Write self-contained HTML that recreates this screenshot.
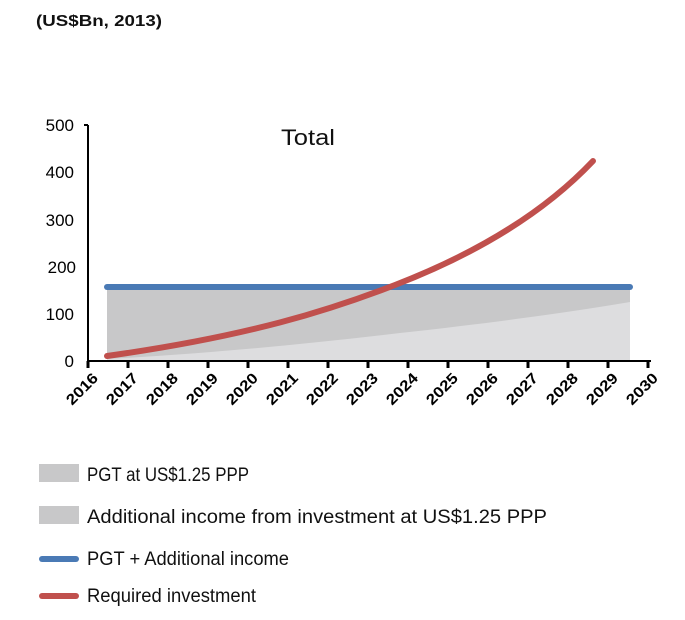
<!DOCTYPE html>
<html><head><style>
body{margin:0;background:#fff;}
svg{display:block;font-family:"Liberation Sans",sans-serif;}
</style></head><body>
<svg width="685" height="620" viewBox="0 0 685 620">
<rect width="685" height="620" fill="#fff"/>
<text x="36" y="26" font-size="16" font-weight="bold" fill="#111" textLength="126" lengthAdjust="spacingAndGlyphs">(US$Bn, 2013)</text>
<!-- areas -->
<rect x="107" y="289" width="523" height="72" fill="#c8c8c9"/>
<path d="M107,359 C200,354 300,345 400,333 C500,322 570,312 630,302 L630,361 L107,361 Z" fill="#dddddf"/>
<!-- blue -->
<line x1="107" y1="287" x2="630" y2="287" stroke="#4a7ab5" stroke-width="6" stroke-linecap="round"/>
<!-- red -->
<path d="M107,356 C250,336 330,310 395,285 C470,256 540,217 593,161" fill="none" stroke="#c0504d" stroke-width="6" stroke-linecap="round"/>
<!-- axes -->
<line x1="88" y1="125" x2="88" y2="362" stroke="#000" stroke-width="2"/>
<line x1="84" y1="125" x2="88" y2="125" stroke="#000" stroke-width="2"/>
<line x1="87" y1="361" x2="651" y2="361" stroke="#000" stroke-width="2"/>
<g stroke="#000" stroke-width="3">
<line x1="88" y1="361" x2="88" y2="368"/><line x1="128" y1="361" x2="128" y2="368"/><line x1="168" y1="361" x2="168" y2="368"/><line x1="208" y1="361" x2="208" y2="368"/><line x1="248" y1="361" x2="248" y2="368"/><line x1="288" y1="361" x2="288" y2="368"/><line x1="328" y1="361" x2="328" y2="368"/><line x1="368" y1="361" x2="368" y2="368"/><line x1="408" y1="361" x2="408" y2="368"/><line x1="448" y1="361" x2="448" y2="368"/><line x1="488" y1="361" x2="488" y2="368"/><line x1="528" y1="361" x2="528" y2="368"/><line x1="568" y1="361" x2="568" y2="368"/><line x1="608" y1="361" x2="608" y2="368"/><line x1="648" y1="361" x2="648" y2="368"/>
</g>
<g font-size="17" fill="#000" text-anchor="end">
<text x="74" y="131">500</text><text x="74" y="178">400</text><text x="74" y="226">300</text><text x="76" y="273">200</text><text x="74" y="320">100</text><text x="74" y="367">0</text>
</g>
<g font-size="15" font-weight="bold" fill="#000" text-anchor="end">
<text transform="translate(99,379) rotate(-45)" textLength="38" lengthAdjust="spacingAndGlyphs">2016</text>
<text transform="translate(139,379) rotate(-45)" textLength="38" lengthAdjust="spacingAndGlyphs">2017</text>
<text transform="translate(179,379) rotate(-45)" textLength="38" lengthAdjust="spacingAndGlyphs">2018</text>
<text transform="translate(219,379) rotate(-45)" textLength="38" lengthAdjust="spacingAndGlyphs">2019</text>
<text transform="translate(259,379) rotate(-45)" textLength="38" lengthAdjust="spacingAndGlyphs">2020</text>
<text transform="translate(299,379) rotate(-45)" textLength="38" lengthAdjust="spacingAndGlyphs">2021</text>
<text transform="translate(339,379) rotate(-45)" textLength="38" lengthAdjust="spacingAndGlyphs">2022</text>
<text transform="translate(379,379) rotate(-45)" textLength="38" lengthAdjust="spacingAndGlyphs">2023</text>
<text transform="translate(419,379) rotate(-45)" textLength="38" lengthAdjust="spacingAndGlyphs">2024</text>
<text transform="translate(459,379) rotate(-45)" textLength="38" lengthAdjust="spacingAndGlyphs">2025</text>
<text transform="translate(499,379) rotate(-45)" textLength="38" lengthAdjust="spacingAndGlyphs">2026</text>
<text transform="translate(539,379) rotate(-45)" textLength="38" lengthAdjust="spacingAndGlyphs">2027</text>
<text transform="translate(579,379) rotate(-45)" textLength="38" lengthAdjust="spacingAndGlyphs">2028</text>
<text transform="translate(619,379) rotate(-45)" textLength="38" lengthAdjust="spacingAndGlyphs">2029</text>
<text transform="translate(659,379) rotate(-45)" textLength="38" lengthAdjust="spacingAndGlyphs">2030</text>
</g>
<text x="281" y="145" font-size="22" fill="#111" textLength="54" lengthAdjust="spacingAndGlyphs">Total</text>
<!-- legend -->
<rect x="39" y="464" width="40" height="18" fill="#c8c8c9"/>
<rect x="39" y="506" width="40" height="18" fill="#c8c8c9"/>
<line x1="42" y1="559" x2="76" y2="559" stroke="#4a7ab5" stroke-width="6" stroke-linecap="round"/>
<line x1="42" y1="596" x2="76" y2="596" stroke="#c0504d" stroke-width="6" stroke-linecap="round"/>
<g font-size="19" fill="#111">
<text x="87" y="481" textLength="162" lengthAdjust="spacingAndGlyphs">PGT at US$1.25  PPP</text>
<text x="87" y="523" textLength="460" lengthAdjust="spacingAndGlyphs">Additional income from investment at US$1.25  PPP</text>
<text x="87" y="565" textLength="202" lengthAdjust="spacingAndGlyphs">PGT + Additional income</text>
<text x="87" y="602" textLength="169" lengthAdjust="spacingAndGlyphs">Required investment</text>
</g>
</svg>
</body></html>
